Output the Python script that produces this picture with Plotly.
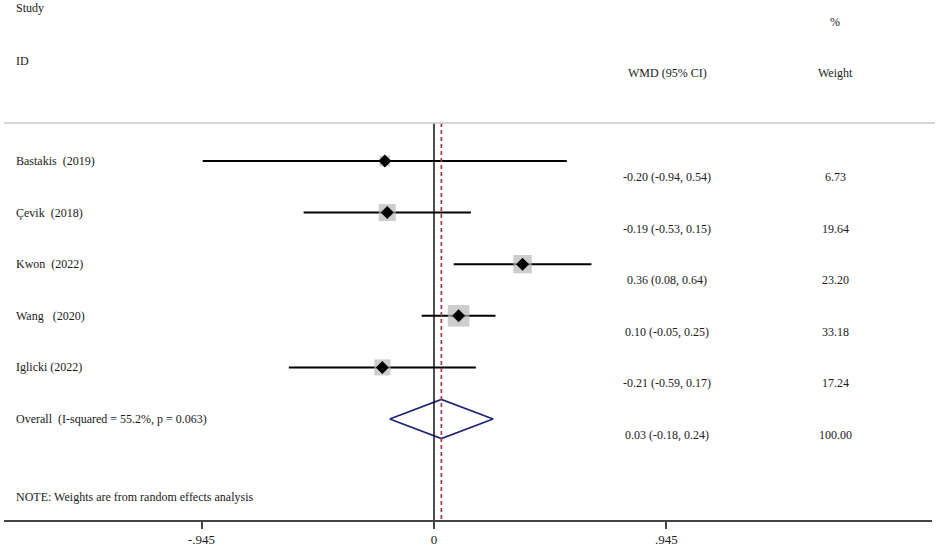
import plotly.graph_objects as go

# forest plot data (WMD, 95% CI, random-effects weights)
studies = ["Bastakis  (2019)", "Çevik  (2018)", "Kwon  (2022)", "Wang   (2020)", "Iglicki (2022)"]
wmd = [-0.20, -0.19, 0.36, 0.10, -0.21]
ci_low = [-0.94, -0.53, 0.08, -0.05, -0.59]
ci_high = [0.54, 0.15, 0.64, 0.25, 0.17]
weights = [6.73, 19.64, 23.20, 33.18, 17.24]

overall_label = "Overall  (I-squared = 55.2%, p = 0.063)"
overall_est = 0.03
overall_low = -0.18
overall_high = 0.24
overall_weight = 100.00

tick_vals = [-0.945, 0, 0.945]
tick_text = ["-.945", "0", ".945"]

W, H = 941, 550
FONT = "Liberation Serif, Times New Roman, serif"
TXT = "#1a1a1a"

# page pixel -> axis helpers (layout only)
row0_px, row_step = 161, 51.6
def Y(px):
    return (px - row0_px) / row_step
def PX(px):
    return px / W

n = len(studies)
rows = list(range(n))
overall_row = n

fig = go.Figure()

# CI lines
for i in rows:
    fig.add_trace(go.Scatter(x=[ci_low[i], ci_high[i]], y=[i, i], mode="lines",
                             line=dict(color="black", width=2), hoverinfo="skip"))

# weight boxes
fig.add_trace(go.Scatter(x=wmd, y=rows, mode="markers",
                         marker=dict(symbol="square", color="#b8b8b8",
                                     size=[3.5 * w ** 0.5 + 1.5 for w in weights], line=dict(width=0))))
# point estimates
fig.add_trace(go.Scatter(x=wmd, y=rows, mode="markers",
                         marker=dict(symbol="diamond", color="black", size=10, line=dict(width=0))))

# overall diamond
dh = 0.38
fig.add_trace(go.Scatter(x=[overall_low, overall_est, overall_high, overall_est, overall_low],
                         y=[overall_row, overall_row - dh, overall_row, overall_row + dh, overall_row],
                         mode="lines", line=dict(color="#1b2378", width=1.6)))

y_top = Y(123)
y_axis = Y(520)

# null line and overall effect line
fig.add_shape(type="line", x0=0, x1=0, y0=y_top, y1=y_axis, xref="x", yref="y",
              line=dict(color="black", width=1.4))
fig.add_shape(type="line", x0=overall_est, x1=overall_est, y0=y_top, y1=y_axis, xref="x", yref="y",
              line=dict(color="#a8384f", width=1.7, dash="4px,3px"))
# header separator
fig.add_shape(type="line", x0=PX(4), x1=PX(935), y0=y_top, y1=y_top, xref="paper", yref="y",
              line=dict(color="#c8c8c8", width=1.5))

def txt(x, y, s, anchor="left", size=12):
    fig.add_annotation(x=x, y=y, xref="paper", yref="y", text=s, showarrow=False,
                       xanchor=anchor, yanchor="middle", font=dict(family=FONT, size=size, color=TXT))

# header
txt(PX(14), Y(8), "Study")
txt(PX(14), Y(61), "ID")
txt(PX(835), Y(22), "%", "center")
txt(PX(667), Y(73), "WMD (95% CI)", "center")
txt(PX(835), Y(73), "Weight", "center")

# rows
off = 0.31
for i in rows:
    txt(PX(14), i, studies[i])
    txt(PX(667), i + off, f"{wmd[i]:.2f} ({ci_low[i]:.2f}, {ci_high[i]:.2f})", "center")
    txt(PX(835), i + off, f"{weights[i]:.2f}", "center")
txt(PX(14), overall_row, overall_label)
txt(PX(667), overall_row + off, f"{overall_est:.2f} ({overall_low:.2f}, {overall_high:.2f})", "center")
txt(PX(835), overall_row + off, f"{overall_weight:.2f}", "center")

txt(PX(14), Y(497), "NOTE: Weights are from random effects analysis")

unit = 246.0
fig.update_layout(
    width=W, height=H,
    margin=dict(l=0, r=0, t=0, b=H - 520),
    paper_bgcolor="white", plot_bgcolor="white",
    showlegend=False,
    xaxis=dict(domain=[PX(4), PX(932)], range=[(4 - 434) / unit, (932 - 434) / unit],
               tickvals=tick_vals, ticktext=tick_text, ticks="outside", ticklen=7, tickwidth=1.5,
               tickcolor="#444", showline=True, linecolor="#444", linewidth=1.5,
               showgrid=False, zeroline=False, tickfont=dict(family=FONT, size=13, color=TXT)),
    yaxis=dict(range=[Y(520), Y(0)], showgrid=False, zeroline=False, showticklabels=False,
               showline=False),
)

# drop the default page margin so the figure sits at the window's top-left corner
fig.write_html("out.html", config={"displayModeBar": False},
               post_script="document.body.style.margin='0';")
